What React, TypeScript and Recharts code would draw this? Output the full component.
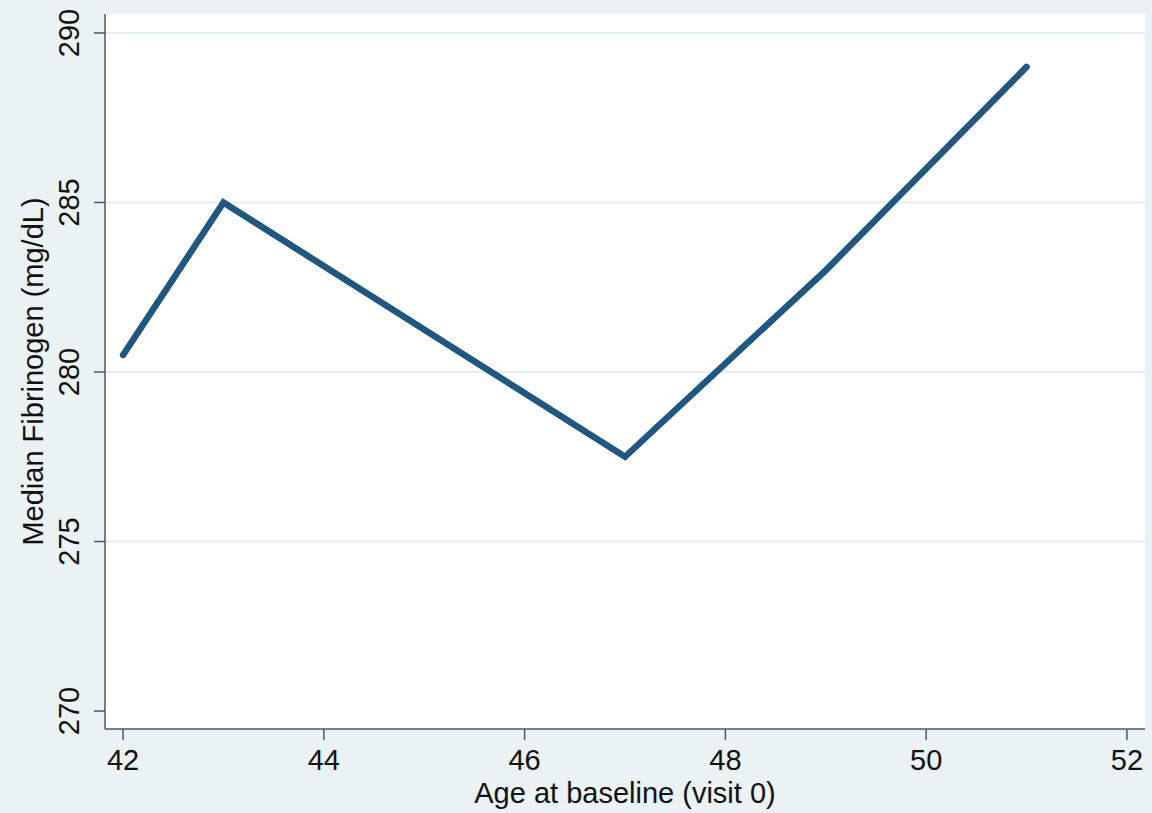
import { LineChart, Line, XAxis, YAxis, CartesianGrid, Label } from 'recharts';

// Median fibrinogen by age at baseline (visit 0)
const ages = [42, 43, 47, 49, 51];
const fibrinogen = [280.5, 285, 277.5, 283, 289];

const xTicks = [42, 44, 46, 48, 50, 52];
const yTicks = [270, 275, 280, 285, 290];
const gridValues = [275, 280, 285, 290];

const data = ages.map((age, i) => ({ age, value: fibrinogen[i] }));

const FONT = '"Liberation Sans", Arial, Helvetica, sans-serif';
const AXIS_COLOR = '#555555';
const LINE_COLOR = '#1f5780';
const FS = 29;

const XTick = (props: any) => {
  const { x, y, payload } = props;
  return (
    <text x={x} y={y + 28} textAnchor="middle" fontSize={FS} fontFamily={FONT} fill="#111">
      {payload.value}
    </text>
  );
};

const YTick = (props: any) => {
  const { x, y, payload } = props;
  const bx = x - 13;
  return (
    <text
      x={bx}
      y={y}
      transform={`rotate(-90, ${bx}, ${y})`}
      textAnchor="middle"
      fontSize={FS}
      fontFamily={FONT}
      fill="#111"
    >
      {payload.value}
    </text>
  );
};

export default function App() {
  return (
    <div style={{ position: 'absolute', left: 0, top: 0, width: 1152, height: 813, background: '#eaf2f3' }}>
      <LineChart width={1152} height={813} data={data} margin={{ top: 14, right: 7, left: 0, bottom: 0 }}>
        <CartesianGrid
          fill="#ffffff"
          vertical={false}
          horizontalValues={gridValues}
          stroke="#e6eff0"
          strokeWidth={2}
        />
        <XAxis
          dataKey="age"
          type="number"
          domain={[41.82, 52.18]}
          ticks={xTicks}
          allowDataOverflow
          height={84}
          tickSize={11}
          stroke={AXIS_COLOR}
          strokeWidth={1.5}
          tick={<XTick />}
        >
          <Label
            value="Age at baseline (visit 0)"
            position="insideBottom"
            offset={10}
            style={{ fontSize: FS, fontFamily: FONT, fill: '#111' }}
          />
        </XAxis>
        <YAxis
          type="number"
          domain={[269.47, 290.56]}
          ticks={yTicks}
          allowDataOverflow
          width={105}
          tickSize={11}
          stroke={AXIS_COLOR}
          strokeWidth={1.5}
          tick={<YTick />}
        >
          <Label
            content={(p: any) => {
              const vb = p.viewBox || {};
              const cy = vb.y + vb.height / 2;
              return (
                <text
                  x={43}
                  y={cy}
                  transform={`rotate(-90, 43, ${cy})`}
                  textAnchor="middle"
                  fontSize={FS}
                  fontFamily={FONT}
                  fill="#111"
                >
                  Median Fibrinogen (mg/dL)
                </text>
              );
            }}
          />
        </YAxis>
        <Line
          type="linear"
          dataKey="value"
          stroke={LINE_COLOR}
          strokeWidth={6.5}
          strokeLinecap="round"
          strokeLinejoin="miter"
          dot={false}
          activeDot={false}
          isAnimationActive={false}
        />
      </LineChart>
    </div>
  );
}
